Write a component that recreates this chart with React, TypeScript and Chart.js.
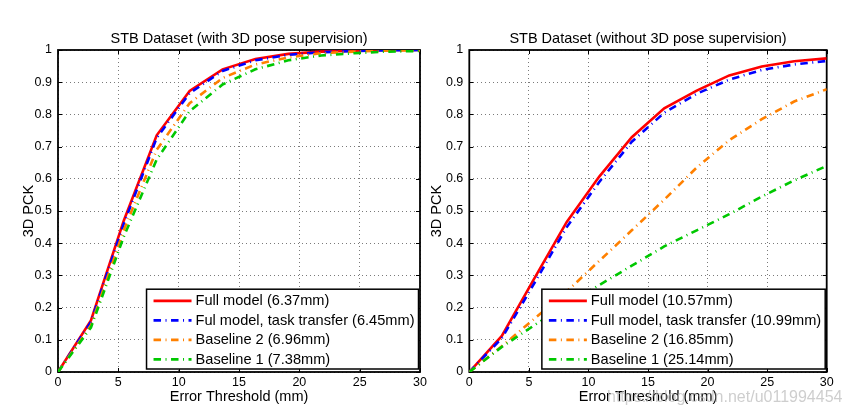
import React, { useEffect, useRef } from "react";
import { Chart, registerables } from "chart.js";

Chart.register(...registerables);

// ---- data ----
const thresholds = [0, 2.73, 5.45, 8.18, 10.91, 13.64, 16.36, 19.09, 21.82, 24.55, 27.27, 30];
const xTickValues = [0, 5, 10, 15, 20, 25, 30];
const xTickLabels = ["0", "5", "10", "15", "20", "25", "30"];
const yTickLabels = ["0", "0.1", "0.2", "0.3", "0.4", "0.5", "0.6", "0.7", "0.8", "0.9", "1"];

const leftTitle = "STB Dataset (with 3D pose supervision)";
const rightTitle = "STB Dataset (without 3D pose supervision)";
const xAxisTitle = "Error Threshold (mm)";
const yAxisTitle = "3D PCK";

const leftLabels = [
  "Full model (6.37mm)",
  "Ful model, task transfer (6.45mm)",
  "Baseline 2 (6.96mm)",
  "Baseline 1 (7.38mm)",
];
const rightLabels = [
  "Full model (10.57mm)",
  "Full model, task transfer (10.99mm)",
  "Baseline 2 (16.85mm)",
  "Baseline 1 (25.14mm)",
];

const leftFull = [0, 0.16, 0.47, 0.735, 0.873, 0.94, 0.972, 0.988, 0.995, 0.998, 1, 1];
const leftTransfer = [0, 0.155, 0.46, 0.727, 0.866, 0.935, 0.968, 0.985, 0.993, 0.997, 0.999, 1];
const leftBaseline2 = [0, 0.145, 0.44, 0.69, 0.835, 0.913, 0.955, 0.977, 0.99, 0.995, 0.998, 0.999];
const leftBaseline1 = [0, 0.138, 0.42, 0.66, 0.81, 0.893, 0.94, 0.968, 0.983, 0.99, 0.995, 0.997];

const rightFull = [0, 0.112, 0.29, 0.466, 0.607, 0.729, 0.819, 0.874, 0.921, 0.949, 0.965, 0.974];
const rightTransfer = [0, 0.105, 0.275, 0.45, 0.59, 0.715, 0.805, 0.864, 0.908, 0.938, 0.955, 0.966];
const rightBaseline2 = [0, 0.08, 0.165, 0.25, 0.345, 0.44, 0.535, 0.635, 0.72, 0.785, 0.84, 0.878];
const rightBaseline1 = [0, 0.078, 0.145, 0.21, 0.27, 0.33, 0.39, 0.44, 0.49, 0.545, 0.595, 0.64];

const watermark = "https://blog.csdn.net/u011994454";

// ---- styles ----
const FONT = "'Liberation Sans', Arial, Helvetica, sans-serif";
const seriesColors = ["#ff0000", "#0000ff", "#ff8000", "#00c800"];
const seriesDashes: number[][] = [[], [7.5, 4.5, 1, 4.5], [7.5, 4.5, 1, 4.5], [7.5, 4.5, 1, 4.5]];

const framePlugin = {
  id: "matlabFrame",
  beforeDatasetsDraw(chart: any) {
    const { ctx, chartArea: a, scales } = chart;
    ctx.save();
    ctx.strokeStyle = "#000";
    ctx.setLineDash([]);
    ctx.lineWidth = 1;
    const tl = 4;
    ctx.beginPath();
    xTickValues.forEach((v) => {
      const px = Math.round(scales.x.getPixelForValue(v)) + 0.5;
      ctx.moveTo(px, a.bottom);
      ctx.lineTo(px, a.bottom - tl);
      ctx.moveTo(px, a.top);
      ctx.lineTo(px, a.top + tl);
    });
    yTickLabels.forEach((_, i) => {
      const py = Math.round(scales.y.getPixelForValue(i / 10)) + 0.5;
      ctx.moveTo(a.left, py);
      ctx.lineTo(a.left + tl, py);
      ctx.moveTo(a.right, py);
      ctx.lineTo(a.right - tl, py);
    });
    ctx.stroke();
    ctx.lineWidth = 1.8;
    ctx.strokeRect(a.left, a.top, a.right - a.left, a.bottom - a.top);
    ctx.restore();
  },
};

const boxLegendPlugin = {
  id: "boxLegend",
  afterDatasetsDraw(chart: any, _args: any, opts: any) {
    const { ctx, chartArea: a } = chart;
    const datasets = chart.data.datasets;
    ctx.save();
    ctx.font = `14.6px ${FONT}`;
    const textW = Math.max(...datasets.map((d: any) => ctx.measureText(d.label).width));
    const rowH = 19.5;
    const w = 49 + textW + 4;
    const h = 11.7 + rowH * (datasets.length - 1) + 9.6;
    const right = a.right - opts.right;
    const bottom = a.bottom - opts.bottom;
    const left = right - w;
    const top = bottom - h;
    ctx.fillStyle = "#fff";
    ctx.fillRect(left, top, w, h);
    ctx.strokeStyle = "#000";
    ctx.lineWidth = 1.5;
    ctx.strokeRect(left, top, w, h);
    datasets.forEach((d: any, i: number) => {
      const cy = top + 11.7 + i * rowH;
      ctx.setLineDash(d.borderDash || []);
      ctx.strokeStyle = d.borderColor;
      ctx.lineWidth = d.borderWidth;
      ctx.beginPath();
      ctx.moveTo(left + 7, cy);
      ctx.lineTo(left + 45, cy);
      ctx.stroke();
      ctx.setLineDash([]);
      ctx.fillStyle = "#000";
      ctx.textBaseline = "middle";
      ctx.textAlign = "left";
      ctx.fillText(d.label, left + 49, cy + 0.5);
    });
    ctx.restore();
  },
};

type PanelProps = {
  title: string;
  labels: string[];
  series: number[][];
  width: number;
  padRight: number;
  yWidth: number;
  yTitlePad: number;
};

function Panel(p: PanelProps & { left: number }) {
  const ref = useRef<HTMLCanvasElement>(null);
  useEffect(() => {
    if (!ref.current) return;
    const chart = new Chart(ref.current, {
      type: "line",
      data: {
        datasets: p.series.map((s, i) => ({
          label: p.labels[i],
          data: thresholds.map((x, j) => ({ x, y: s[j] })),
          borderColor: seriesColors[i],
          backgroundColor: seriesColors[i],
          borderWidth: 2.6,
          borderDash: seriesDashes[i],
          pointRadius: 0,
          fill: false,
          tension: 0,
          order: 4 - i,
        })),
      },
      options: {
        animation: false,
        responsive: false,
        maintainAspectRatio: false,
        layout: { padding: { left: 0, right: p.padRight, top: 0, bottom: 0 } },
        plugins: {
          legend: { display: false },
          tooltip: { enabled: false },
          title: {
            display: true,
            text: p.title,
            fullSize: false,
            color: "#000",
            font: { family: FONT, size: 14.5, weight: "normal", lineHeight: 1.2 },
            padding: { top: 30.3, bottom: 2.3 },
          },
          boxLegend: { right: 1.5, bottom: 3 },
        } as any,
        scales: {
          x: {
            type: "linear",
            min: 0,
            max: 30,
            afterBuildTicks: (s: any) => {
              s.ticks = xTickValues.map((v) => ({ value: v }));
            },
            afterFit: (s: any) => {
              s.height = 48;
            },
            ticks: {
              autoSkip: false,
              maxRotation: 0,
              padding: 3.5,
              color: "#000",
              font: { family: FONT, size: 12.5, lineHeight: 1.2 },
              callback: (v: any) => xTickLabels[xTickValues.indexOf(Number(v))] ?? "",
            },
            grid: { color: "#7a7a7a", lineWidth: 1, drawTicks: false },
            border: { display: false, dash: [1, 3] },
            title: {
              display: true,
              text: xAxisTitle,
              color: "#000",
              font: { family: FONT, size: 14.5, lineHeight: 1.2 },
              padding: { top: 0, bottom: 14.3 },
            },
          },
          y: {
            type: "linear",
            min: 0,
            max: 1,
            afterBuildTicks: (s: any) => {
              s.ticks = yTickLabels.map((_, i) => ({ value: i / 10 }));
            },
            afterFit: (s: any) => {
              s.width = p.yWidth;
            },
            ticks: {
              autoSkip: false,
              padding: 6,
              color: "#000",
              font: { family: FONT, size: 12.5, lineHeight: 1.2 },
              callback: (_v: any, i: number) => yTickLabels[i],
            },
            grid: { color: "#7a7a7a", lineWidth: 1, drawTicks: false },
            border: { display: false, dash: [1, 3] },
            title: {
              display: true,
              text: yAxisTitle,
              color: "#000",
              font: { family: FONT, size: 14.5, lineHeight: 1.2 },
              padding: { top: p.yTitlePad, bottom: 0 },
            },
          },
        },
      } as any,
      plugins: [framePlugin, boxLegendPlugin],
    });
    return () => chart.destroy();
  }, []);
  return (
    <canvas
      ref={ref}
      width={p.width}
      height={420}
      style={{ position: "absolute", left: p.left, top: 0, width: p.width, height: 420, display: "block" }}
    />
  );
}

export default function App() {
  return (
    <div
      style={{
        position: "fixed",
        left: 0,
        top: 0,
        width: 852,
        height: 420,
        background: "#fff",
        overflow: "hidden",
      }}
    >
      <Panel
        left={0}
        width={440}
        title={leftTitle}
        labels={leftLabels}
        series={[leftFull, leftTransfer, leftBaseline2, leftBaseline1]}
        padRight={20}
        yWidth={58}
        yTitlePad={20.3}
      />
      <Panel
        left={424}
        width={428}
        title={rightTitle}
        labels={rightLabels}
        series={[rightFull, rightTransfer, rightBaseline2, rightBaseline1]}
        padRight={25.3}
        yWidth={45.3}
        yTitlePad={4.3}
      />
      <span
        style={{
          position: "absolute",
          left: 607,
          top: 388,
          fontFamily: FONT,
          fontSize: 16,
          lineHeight: "18px",
          color: "rgba(185,185,185,0.7)",
          whiteSpace: "nowrap",
        }}
      >
        {watermark}
      </span>
    </div>
  );
}
